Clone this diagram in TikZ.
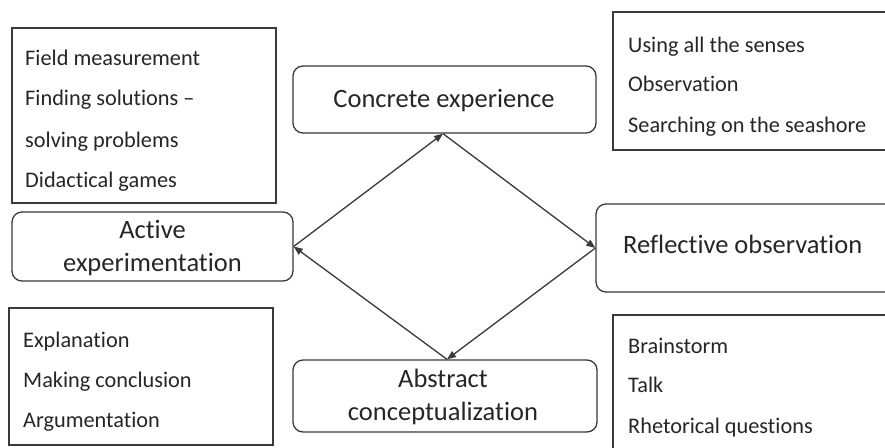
\documentclass[tikz,border=0pt]{standalone}
\usepackage{fontspec}
\setmainfont[Ligatures={NoCommon,NoRare,NoContextual}]{Carlito}
\usetikzlibrary{arrows.meta}
\definecolor{ink}{HTML}{262626}
\definecolor{edge}{HTML}{3A3A3A}
\tikzset{
  sqbox/.style={draw=edge, line width=1.3pt, inner sep=0pt, fill=none},
  rbox/.style={draw=edge, line width=1.3pt, inner sep=0pt, rounded corners=10pt},
  small/.style={font=\fontsize{22.3}{26}\selectfont, text=ink, inner sep=0pt, anchor=base west},
  big/.style={font=\fontsize{26.5}{30}\selectfont, text=ink, inner sep=0pt, anchor=base},
  flow/.style={draw=edge, line width=1.3pt, -{Triangle[length=9pt,width=7pt]}, shorten >=0pt}
}
\begin{document}
\begin{tikzpicture}[x=1pt,y=-1pt]
\clip (0,0) rectangle (885,447);
\fill[white] (0,0) rectangle (885,447);

% list boxes
\node[sqbox, minimum width=264pt, minimum height=175pt] (tl) at (144,115.5) {};
\node[sqbox, minimum width=282pt, minimum height=138pt] (tr) at (754,81) {};
\node[sqbox, minimum width=264pt, minimum height=137pt] (bl) at (141,376.5) {};
\node[sqbox, minimum width=282pt, minimum height=145pt] (br) at (754,387.5) {};

% stage boxes
\node[rbox, minimum width=303pt, minimum height=67pt] (ce) at (444.5,99.5) {};
\node[rbox, minimum width=281pt, minimum height=69pt] (ae) at (152.5,246.5) {};
\node[rbox, minimum width=299pt, minimum height=88pt] (ro) at (745.5,248) {};
\node[rbox, minimum width=304pt, minimum height=72pt] (ac) at (445,396) {};

% stage texts
\node[big] (cet) at (444,107) {Concrete experience};
\node[big] (aet1) at (152.5,238) {Active};
\node[big] (aet2) at (152.5,271) {experimentation};
\node[big, anchor=base west] (rot) at (623,253) {Reflective observation};
\node[big] (act1) at (443,387) {Abstract};
\node[big] (act2) at (443,420) {conceptualization};

% list texts
\node[small] (tl1) at (25,65) {Field measurement};
\node[small] (tl2) at (25,105) {Finding solutions \textendash};
\node[small] (tl3) at (25,147) {solving problems};
\node[small] (tl4) at (25,187) {Didactical games};

\node[small] (tr1) at (628,52) {Using all the senses};
\node[small] (tr2) at (628,91) {Observation};
\node[small] (tr3) at (628,132) {Searching on the seashore};

\node[small] (bl1) at (23,347) {Explanation};
\node[small] (bl2) at (23,387) {Making conclusion};
\node[small] (bl3) at (23,427) {Argumentation};

\node[small] (br1) at (628,353) {Brainstorm};
\node[small] (br2) at (628,392) {Talk};
\node[small] (br3) at (628,433) {Rhetorical questions};

% cycle arrows
\draw[flow] (ae.east) -- ([xshift=-1.5pt]ce.south);
\draw[flow] ([xshift=-1.5pt]ce.south) -- (ro.west);
\draw[flow] (ro.west) -- ([xshift=2pt]ac.north);
\draw[flow] ([xshift=2pt]ac.north) -- (ae.east);
\end{tikzpicture}
\end{document}
